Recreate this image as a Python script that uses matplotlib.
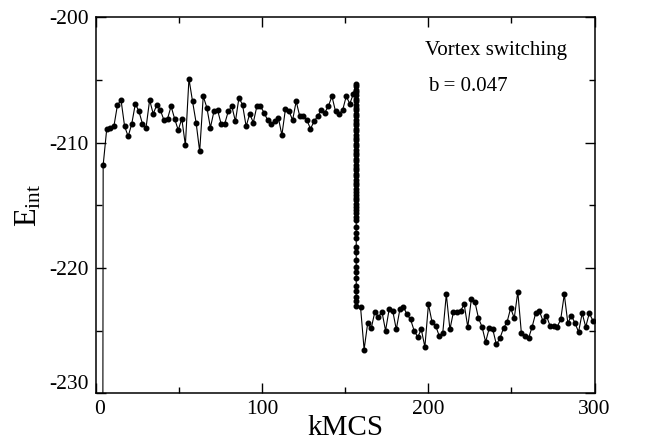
import numpy as np
import matplotlib
matplotlib.use("Agg")
import matplotlib.pyplot as plt
from matplotlib.ticker import MultipleLocator, FuncFormatter

plt.rcParams['font.family'] = ['Liberation Serif', 'DejaVu Serif']
plt.rcParams['mathtext.fontset'] = 'custom'
plt.rcParams['mathtext.rm'] = 'Liberation Serif'
plt.rcParams['mathtext.it'] = 'Liberation Serif:italic'
plt.rcParams['axes.unicode_minus'] = False

# sampling grid (kMCS)
t0 = 2.25
dt = 2.15

# first sample, far below the plotted range
e_start = [-450.0]

# before the switch
e_before = [-211.8, -208.9, -208.8, -208.7, -207.0, -206.6, -208.7, -209.5, -208.5, -206.9,
            -207.5, -208.5, -208.8, -206.6, -207.7, -207.0, -207.4, -208.2, -208.1, -207.1,
            -208.1, -209.0, -208.1, -210.2, -204.9, -206.7, -208.4, -210.7, -206.3, -207.2,
            -208.8, -207.5, -207.4, -208.5, -208.5, -207.5, -207.1, -208.3, -206.4, -207.0,
            -208.7, -207.7, -208.4, -207.1, -207.1, -207.6, -208.2, -208.5, -208.3, -208.0,
            -209.4, -207.3, -207.5, -208.2, -206.7, -207.9, -207.9, -208.2, -208.9, -208.3,
            -207.9, -207.4, -207.6, -207.1, -206.3, -207.5, -207.7, -207.4, -206.3, -206.9,
            -206.1]

# the switching event (many samples inside one step)
e_switch = [-205.3, -205.5, -205.8, -206.0, -206.2, -206.5, -206.7, -207.0, -207.2, -207.4,
            -207.7, -207.9, -208.2, -208.4, -208.6, -208.9, -209.1, -209.4, -209.6, -209.8,
            -210.1, -210.3, -210.6, -210.8, -211.0, -211.3, -211.5, -211.8, -212.0, -212.2,
            -212.5, -212.7, -213.0, -213.2, -213.4, -213.7, -213.9, -214.2, -214.4, -214.6,
            -214.9, -215.1, -215.4, -215.6, -215.9, -216.2, -216.7, -217.2, -217.6, -218.3,
            -218.7, -219.4, -219.9, -220.3, -220.8, -221.4, -221.8, -222.3, -222.6, -223.0]

# after the switch
e_after = [-223.1, -226.5, -224.4, -224.8, -223.5, -223.9, -223.5, -225.0, -223.3, -223.4,
           -224.9, -223.3, -223.1, -223.7, -224.1, -225.0, -225.5, -224.9, -226.3, -222.9,
           -224.3, -224.6, -225.4, -225.2, -222.1, -224.9, -223.5, -223.5, -223.4, -222.9,
           -224.7, -222.5, -222.7, -224.0, -224.7, -225.9, -224.8, -224.9, -226.1, -225.6,
           -224.8, -224.3, -223.2, -224.0, -221.9, -225.2, -225.4, -225.6, -224.7, -223.6,
           -223.4, -224.2, -223.8, -224.6, -224.6, -224.7, -224.1, -222.1, -224.4, -223.8,
           -224.4, -225.1, -223.6, -224.7, -223.6, -224.2]

n_b = len(e_before)
x_start = [t0]
x_before = list(t0 + dt * np.arange(1, n_b + 1))
x_switch = [t0 + dt * (n_b + 0.8)] * len(e_switch)
x_after = list(t0 + dt * np.arange(n_b + 2, n_b + 2 + len(e_after)))

x = x_start + x_before + x_switch + x_after
e = e_start + e_before + e_switch + e_after

fig = plt.figure(figsize=(6.52, 4.43), dpi=100)
ax = fig.add_axes([0.147, 0.112, 0.765, 0.849])

ax.plot(x, e, color='black', lw=0.8, marker='o', ms=3.3, mec='black', mfc='black')

ax.set_xlim(0, 300)
ax.set_ylim(-230, -200)
ax.xaxis.set_major_locator(MultipleLocator(100))
ax.xaxis.set_minor_locator(MultipleLocator(50))
ax.yaxis.set_major_locator(MultipleLocator(10))
ax.yaxis.set_minor_locator(MultipleLocator(5))
# corner labels (-230 and 0) are drawn separately, slightly shifted like the original
ax.yaxis.set_major_formatter(FuncFormatter(lambda v, p: '' if v <= -230 else '%d' % v))
ax.xaxis.set_major_formatter(FuncFormatter(lambda v, p: '' if v == 0 else '%d' % v))
ax.tick_params(which='both', direction='in', top=True, right=True, labelsize=15.5, width=1.0)
ax.tick_params(which='major', length=7.5, pad=5)
ax.tick_params(which='minor', length=4.5)
for s in ax.spines.values():
    s.set_linewidth(1.1)

ax.annotate('-230', xy=(0, -230), xycoords=('axes fraction', 'data'),
            xytext=(-5, 6.5), textcoords='offset points', ha='right', va='center', fontsize=15.5)
ax.annotate('0', xy=(0, 0), xycoords=('data', 'axes fraction'),
            xytext=(3, -5), textcoords='offset points', ha='center', va='top', fontsize=15.5)

ax.set_xlabel('kMCS', fontsize=21, labelpad=-3)
ax.set_ylabel(r'$\mathrm{E_{int}}$', fontsize=22, labelpad=4)

ax.text(0.66, 0.9, 'Vortex switching', transform=ax.transAxes, fontsize=15)
ax.text(0.665, 0.805, 'b = 0.047', transform=ax.transAxes, fontsize=15)

fig.savefig('out.png', dpi=100)
